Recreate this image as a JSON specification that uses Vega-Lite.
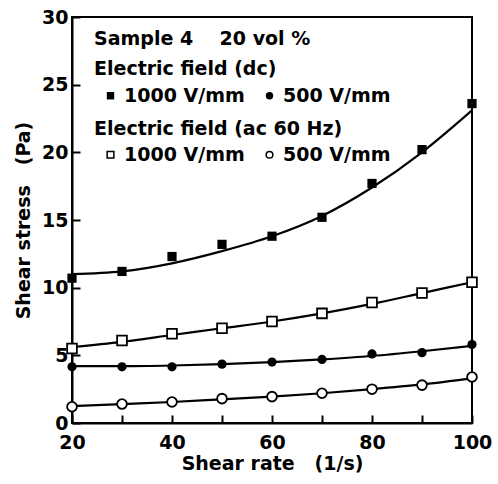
{
  "$schema": "https://vega.github.io/schema/vega-lite/v6.json",
  "width": 400,
  "height": 406,
  "autosize": {"type": "none"},
  "padding": {"left": 72, "top": 17, "right": 26, "bottom": 61},
  "background": "white",
  "config": {
    "font": "DejaVu Sans",
    "view": {"stroke": "black", "strokeWidth": 2},
    "axis": {
      "domainColor": "black", "domainWidth": 2,
      "tickColor": "black", "tickWidth": 2, "tickSize": -8,
      "labelColor": "black", "labelFont": "DejaVu Sans", "labelFontWeight": "bold", "labelFontSize": 19,
      "titleColor": "black", "titleFont": "DejaVu Sans", "titleFontWeight": "bold", "titleFontSize": 19,
      "grid": false
    },
    "legend": {
      "labelFont": "DejaVu Sans", "labelFontWeight": "bold", "labelFontSize": 19, "labelColor": "black",
      "titleFont": "DejaVu Sans", "titleFontWeight": "bold", "titleFontSize": 19, "titleColor": "black",
      "titleLimit": 400, "labelLimit": 300
    }
  },
  "datasets": {
    "points": [
      {"rate": 20, "stress": 10.7, "field": "dc", "strength": "1000 V/mm"},
      {"rate": 30, "stress": 11.2, "field": "dc", "strength": "1000 V/mm"},
      {"rate": 40, "stress": 12.3, "field": "dc", "strength": "1000 V/mm"},
      {"rate": 50, "stress": 13.2, "field": "dc", "strength": "1000 V/mm"},
      {"rate": 60, "stress": 13.8, "field": "dc", "strength": "1000 V/mm"},
      {"rate": 70, "stress": 15.2, "field": "dc", "strength": "1000 V/mm"},
      {"rate": 80, "stress": 17.7, "field": "dc", "strength": "1000 V/mm"},
      {"rate": 90, "stress": 20.2, "field": "dc", "strength": "1000 V/mm"},
      {"rate": 100, "stress": 23.6, "field": "dc", "strength": "1000 V/mm"},
      {"rate": 20, "stress": 4.15, "field": "dc", "strength": "500 V/mm"},
      {"rate": 30, "stress": 4.15, "field": "dc", "strength": "500 V/mm"},
      {"rate": 40, "stress": 4.15, "field": "dc", "strength": "500 V/mm"},
      {"rate": 50, "stress": 4.35, "field": "dc", "strength": "500 V/mm"},
      {"rate": 60, "stress": 4.5, "field": "dc", "strength": "500 V/mm"},
      {"rate": 70, "stress": 4.7, "field": "dc", "strength": "500 V/mm"},
      {"rate": 80, "stress": 5.1, "field": "dc", "strength": "500 V/mm"},
      {"rate": 90, "stress": 5.2, "field": "dc", "strength": "500 V/mm"},
      {"rate": 100, "stress": 5.8, "field": "dc", "strength": "500 V/mm"},
      {"rate": 20, "stress": 5.5, "field": "ac", "strength": "1000 V/mm"},
      {"rate": 30, "stress": 6.1, "field": "ac", "strength": "1000 V/mm"},
      {"rate": 40, "stress": 6.6, "field": "ac", "strength": "1000 V/mm"},
      {"rate": 50, "stress": 7.0, "field": "ac", "strength": "1000 V/mm"},
      {"rate": 60, "stress": 7.5, "field": "ac", "strength": "1000 V/mm"},
      {"rate": 70, "stress": 8.1, "field": "ac", "strength": "1000 V/mm"},
      {"rate": 80, "stress": 8.9, "field": "ac", "strength": "1000 V/mm"},
      {"rate": 90, "stress": 9.6, "field": "ac", "strength": "1000 V/mm"},
      {"rate": 100, "stress": 10.4, "field": "ac", "strength": "1000 V/mm"},
      {"rate": 20, "stress": 1.2, "field": "ac", "strength": "500 V/mm"},
      {"rate": 30, "stress": 1.4, "field": "ac", "strength": "500 V/mm"},
      {"rate": 40, "stress": 1.55, "field": "ac", "strength": "500 V/mm"},
      {"rate": 50, "stress": 1.8, "field": "ac", "strength": "500 V/mm"},
      {"rate": 60, "stress": 1.95, "field": "ac", "strength": "500 V/mm"},
      {"rate": 70, "stress": 2.2, "field": "ac", "strength": "500 V/mm"},
      {"rate": 80, "stress": 2.5, "field": "ac", "strength": "500 V/mm"},
      {"rate": 90, "stress": 2.8, "field": "ac", "strength": "500 V/mm"},
      {"rate": 100, "stress": 3.4, "field": "ac", "strength": "500 V/mm"}
    ],
    "curves": [
      {"rate": 20, "stress": 11.0, "series": "dc1000"},
      {"rate": 30, "stress": 11.2, "series": "dc1000"},
      {"rate": 40, "stress": 11.8, "series": "dc1000"},
      {"rate": 50, "stress": 12.7, "series": "dc1000"},
      {"rate": 60, "stress": 13.8, "series": "dc1000"},
      {"rate": 70, "stress": 15.3, "series": "dc1000"},
      {"rate": 80, "stress": 17.4, "series": "dc1000"},
      {"rate": 90, "stress": 20.0, "series": "dc1000"},
      {"rate": 100, "stress": 23.1, "series": "dc1000"},
      {"rate": 20, "stress": 5.6, "series": "ac1000"},
      {"rate": 30, "stress": 6.0, "series": "ac1000"},
      {"rate": 40, "stress": 6.5, "series": "ac1000"},
      {"rate": 50, "stress": 7.0, "series": "ac1000"},
      {"rate": 60, "stress": 7.5, "series": "ac1000"},
      {"rate": 70, "stress": 8.1, "series": "ac1000"},
      {"rate": 80, "stress": 8.8, "series": "ac1000"},
      {"rate": 90, "stress": 9.6, "series": "ac1000"},
      {"rate": 100, "stress": 10.4, "series": "ac1000"},
      {"rate": 20, "stress": 4.2, "series": "dc500"},
      {"rate": 30, "stress": 4.2, "series": "dc500"},
      {"rate": 40, "stress": 4.25, "series": "dc500"},
      {"rate": 50, "stress": 4.35, "series": "dc500"},
      {"rate": 60, "stress": 4.5, "series": "dc500"},
      {"rate": 70, "stress": 4.7, "series": "dc500"},
      {"rate": 80, "stress": 4.95, "series": "dc500"},
      {"rate": 90, "stress": 5.3, "series": "dc500"},
      {"rate": 100, "stress": 5.7, "series": "dc500"},
      {"rate": 20, "stress": 1.25, "series": "ac500"},
      {"rate": 30, "stress": 1.4, "series": "ac500"},
      {"rate": 40, "stress": 1.55, "series": "ac500"},
      {"rate": 50, "stress": 1.75, "series": "ac500"},
      {"rate": 60, "stress": 1.95, "series": "ac500"},
      {"rate": 70, "stress": 2.2, "series": "ac500"},
      {"rate": 80, "stress": 2.5, "series": "ac500"},
      {"rate": 90, "stress": 2.85, "series": "ac500"},
      {"rate": 100, "stress": 3.3, "series": "ac500"}
    ]
  },
  "encoding": {
    "x": {
      "field": "rate", "type": "quantitative",
      "scale": {"domain": [20, 100], "nice": false},
      "axis": {
        "title": "Shear rate\u00a0\u00a0\u00a0(1/s)",
        "values": [20, 30, 40, 50, 60, 70, 80, 90, 100],
        "labelExpr": "datum.value % 20 == 0 ? datum.label : ''",
        "labelPadding": 18, "titlePadding": 2, "labelFlush": false
      }
    },
    "y": {
      "field": "stress", "type": "quantitative",
      "scale": {"domain": [0, 30], "nice": false},
      "axis": {
        "title": "Shear stress\u00a0\u00a0\u00a0(Pa)",
        "values": [0, 5, 10, 15, 20, 25, 30],
        "labelPadding": 12, "titlePadding": 8, "labelFlush": false
      }
    }
  },
  "layer": [
    {
      "data": {"name": "curves"},
      "mark": {"type": "line", "interpolate": "monotone", "color": "black", "strokeWidth": 2.2},
      "encoding": {"detail": {"field": "series"}}
    },
    {
      "data": {"name": "points"},
      "transform": [{"filter": "datum.field == 'dc'"}],
      "mark": {"type": "point", "filled": true, "color": "black", "opacity": 1, "size": 85},
      "encoding": {
        "shape": {
          "field": "strength", "type": "nominal",
          "scale": {"domain": ["1000 V/mm", "500 V/mm"], "range": ["square", "circle"]},
          "legend": {
            "title": ["Sample 4\u00a0\u00a0\u00a0\u00a020 vol %", "Electric field (dc)"],
            "orient": "none", "legendX": 22, "legendY": 13,
            "direction": "horizontal", "columns": 2, "columnPadding": 8,
            "symbolOffset": 7, "symbolSize": 55, "symbolFillColor": "black", "symbolStrokeColor": "black",
            "labelOffset": 4, "titlePadding": 7, "titleLineHeight": 30
          }
        }
      }
    },
    {
      "data": {"name": "points"},
      "transform": [{"filter": "datum.field == 'ac'"}],
      "mark": {"type": "point", "filled": false, "fill": "white", "color": "black", "strokeWidth": 1.8, "opacity": 1, "size": 95},
      "encoding": {
        "shape": {
          "field": "strength", "type": "nominal",
          "scale": {"domain": ["1000 V/mm", "500 V/mm"], "range": ["square", "circle"]},
          "legend": {
            "title": "Electric field (ac 60 Hz)",
            "orient": "none", "legendX": 22, "legendY": 103,
            "direction": "horizontal", "columns": 2, "columnPadding": 8,
            "symbolOffset": 7, "symbolSize": 45,
            "labelOffset": 4, "titlePadding": 6,
            "encode": {"symbols": {"update": {"stroke": {"value": "black"}, "fill": {"value": "white"}, "strokeWidth": {"value": 1.5}, "opacity": {"value": 1}}}}
          }
        }
      }
    }
  ],
  "resolve": {"scale": {"shape": "independent"}, "legend": {"shape": "independent"}}
}
